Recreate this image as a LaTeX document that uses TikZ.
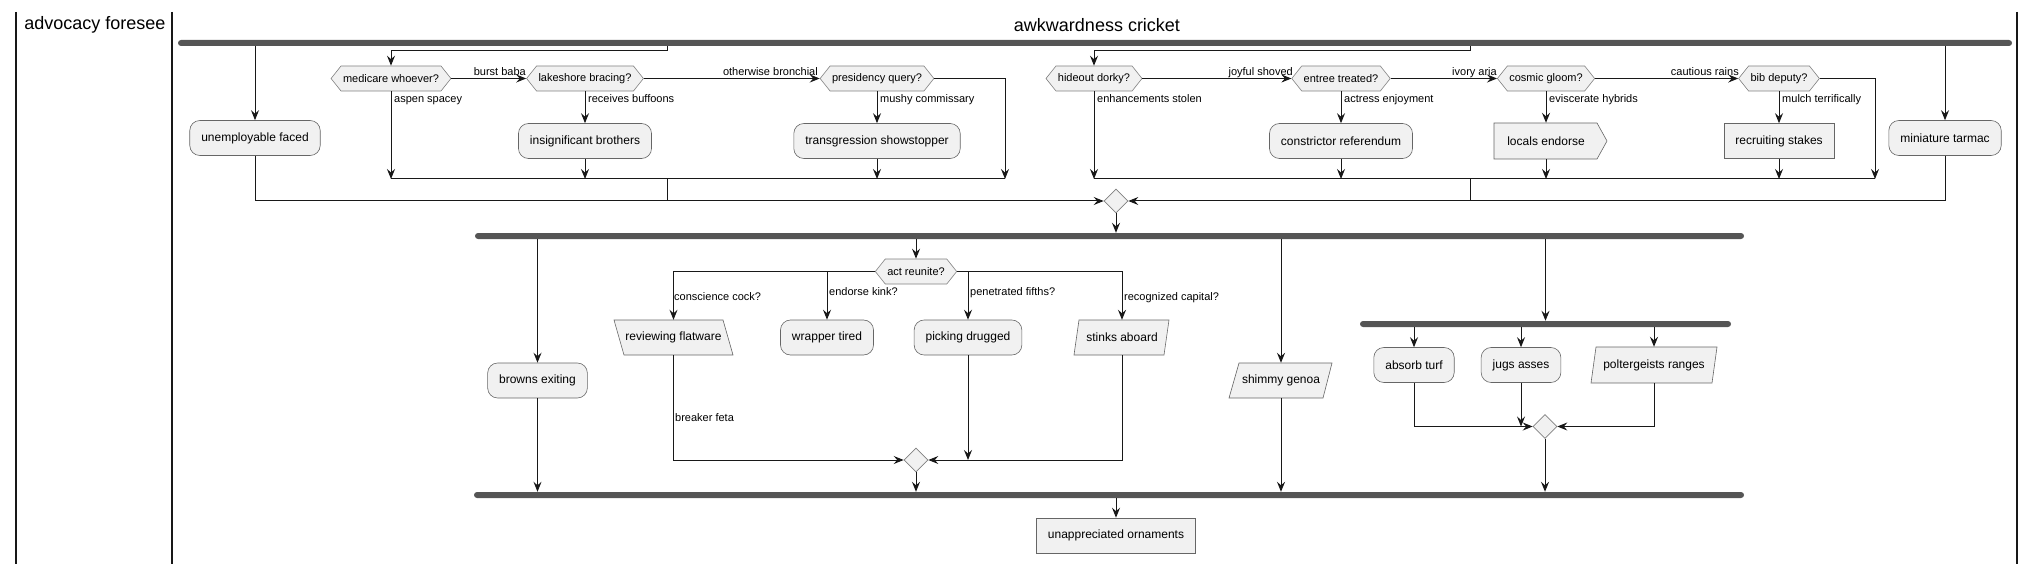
\documentclass[tikz,border=0pt]{standalone}
\usepackage{fontspec}
\setmainfont{Liberation Sans}
\usepackage{xcolor}
\usepackage{tikz}
\usetikzlibrary{arrows.meta,shapes.symbols,shapes.geometric}
\definecolor{boxfill}{HTML}{F1F1F1}
\definecolor{barfill}{HTML}{555555}
\definecolor{linecol}{HTML}{181818}

\begin{document}
\begin{tikzpicture}[x=1pt,y=-1pt,
  flow/.style={draw=linecol,line width=1pt,-{Stealth[length=10pt,width=8pt,inset=3.5pt]}},
  wire/.style={draw=linecol,line width=1pt},
  edge/.style={draw=black!60,fill=boxfill,line width=0.6pt},
  actbox/.style={edge,rounded corners=10pt,minimum height=35pt,inner xsep=11.5pt,font=\fontsize{12}{14}\selectfont},
  plainbox/.style={edge,minimum height=35pt,inner xsep=11.5pt,font=\fontsize{12}{14}\selectfont},
  iotext/.style={minimum height=35pt,inner xsep=7pt,font=\fontsize{12}{14}\selectfont},
  choice/.style={signal,signal to=east and west,signal pointer angle=103,draw=black!50,fill=boxfill,line width=0.6pt,
    minimum height=25pt,inner xsep=2pt,inner ysep=0pt,font=\fontsize{11}{13}\selectfont},
  merge/.style={diamond,draw=black!50,fill=boxfill,line width=0.6pt,minimum width=24pt,minimum height=24pt,inner sep=0pt},
  bar/.style={fill=barfill,rounded corners=3pt,minimum height=6pt,inner sep=0pt},
  lbl/.style={inner sep=0pt,font=\fontsize{11}{13}\selectfont},
  lane/.style={draw=linecol,line width=1.5pt},
  lanetitle/.style={inner sep=0pt,font=\fontsize{18}{22}\selectfont}]
  \useasboundingbox (0,0) rectangle (2036,564);
  \draw[lane] (16,12) -- (16,564);
  \draw[lane] (172,12) -- (172,564);
  \draw[lane] (2017,12) -- (2017,564);
  \node[lanetitle] (lane1) at (95,25) {advocacy foresee};
  \node[lanetitle] (lane2) at (1097,25) {awkwardness cricket};

  \node[bar,minimum width=1834pt] (fork1) at (1095,43) {};
  \node[actbox] (unemp) at (255,138) {unemployable faced};
  \node[actbox] (tarmac) at (1945,138) {miniature tarmac};
  \node[choice] (dec1) at (391,78.5) {medicare whoever?};
  \node[choice] (dec2) at (585,78.5) {lakeshore bracing?};
  \node[choice] (dec3) at (877,78.5) {presidency query?};
  \node[choice] (dec4) at (1094,78.5) {hideout dorky?};
  \node[choice] (dec5) at (1341,78.5) {entree treated?};
  \node[choice] (dec6) at (1546,78.5) {cosmic gloom?};
  \node[choice] (dec7) at (1779,78.5) {bib deputy?};
  \node[actbox] (insig) at (585,141) {insignificant brothers};
  \node[actbox] (transg) at (877,141) {transgression showstopper};
  \node[actbox] (constr) at (1341,141) {constrictor referendum};
  \filldraw[edge] (1494,123) -- (1597,123) -- (1607,141) -- (1597,159) -- (1494,159) -- cycle;
  \node[minimum height=36pt,font=\fontsize{12}{14}\selectfont] (locals) at (1546,141) {locals endorse};
  \node[plainbox] (recruit) at (1779,141) {recruiting stakes};

  \coordinate (t1) at (667,51);
  \coordinate (t2) at (1470,51);
  \coordinate (m1) at (667,179);
  \coordinate (m1r) at (1005,179);
  \coordinate (m2) at (1470,179);
  \coordinate (m2r) at (1875,179);
  \draw[flow] (unemp.north |- fork1.south) -- (unemp.north);
  \draw[flow] (tarmac.north |- fork1.south) -- (tarmac.north);
  \draw[flow] (t1 |- fork1.south) -- (t1) -| (dec1.north);
  \draw[flow] (t2 |- fork1.south) -- (t2) -| (dec4.north);
  \draw[flow] (dec1.east) -- (dec2.west);
  \draw[flow] (dec2.east) -- (dec3.west);
  \draw[flow] (dec4.east) -- (dec5.west);
  \draw[flow] (dec5.east) -- (dec6.west);
  \draw[flow] (dec6.east) -- (dec7.west);
  \node[lbl,anchor=base east] (lburst) at (526,75.5) {burst baba};
  \node[lbl,anchor=base east] (lother) at (818,75.5) {otherwise bronchial};
  \node[lbl,anchor=base east] (ljoy) at (1293,75.5) {joyful shoved};
  \node[lbl,anchor=base east] (livory) at (1497,75.5) {ivory aria};
  \node[lbl,anchor=base east] (lcaut) at (1739,75.5) {cautious rains};
  \draw[flow] (dec1.south) -- (dec1.south |- m1);
  \draw[flow] (dec2.south) -- (insig.north);
  \draw[flow] (dec3.south) -- (transg.north);
  \draw[flow] (dec4.south) -- (dec4.south |- m2);
  \draw[flow] (dec5.south) -- (constr.north);
  \draw[flow] (dec6.south) -- (locals.north);
  \draw[flow] (dec7.south) -- (recruit.north);
  \node[lbl,anchor=base west] (laspen) at (394,102.5) {aspen spacey};
  \node[lbl,anchor=base west] (lrecv) at (588,102.5) {receives buffoons};
  \node[lbl,anchor=base west] (lmushy) at (880,102.5) {mushy commissary};
  \node[lbl,anchor=base west] (lenh) at (1097,102.5) {enhancements stolen};
  \node[lbl,anchor=base west] (lactr) at (1344,102.5) {actress enjoyment};
  \node[lbl,anchor=base west] (levisc) at (1549,102.5) {eviscerate hybrids};
  \node[lbl,anchor=base west] (lmulch) at (1782,102.5) {mulch terrifically};
  \draw[flow] (insig.south) -- (insig.south |- m1);
  \draw[flow] (transg.south) -- (transg.south |- m1);
  \draw[flow] (dec3.east) -| (m1r);
  \draw[wire] (dec1.south |- m1) -- (m1r);
  \draw[flow] (constr.south) -- (constr.south |- m2);
  \draw[flow] (locals.south) -- (locals.south |- m2);
  \draw[flow] (recruit.south) -- (recruit.south |- m2);
  \draw[flow] (dec7.east) -| (m2r);
  \draw[wire] (dec4.south |- m2) -- (m2r);

  \node[merge] (mg1) at (1116,201) {};
  \draw[flow] (unemp.south) |- (mg1.west);
  \draw[flow] (tarmac.south) |- (mg1.east);
  \draw[wire] (m1) -- (m1 |- mg1);
  \draw[wire] (m2) -- (m2 |- mg1);

  \node[bar,minimum width=1269pt] (fork2) at (1109.5,236) {};
  \draw[flow] (mg1.south) -- (mg1.south |- fork2.north);
  \node[choice] (act) at (916,271.5) {act reunite?};
  \node[actbox] (browns) at (537.5,380.5) {browns exiting};
  \filldraw[edge] (614,320) -- (723,320) -- (733,355) -- (624,355) -- cycle;
  \node[iotext] (flat) at (673.5,337.5) {reviewing flatware};
  \node[actbox] (wrap) at (827,337.5) {wrapper tired};
  \node[actbox] (pick) at (968,337.5) {picking drugged};
  \filldraw[edge] (1079,320) -- (1169,320) -- (1164,355) -- (1074,355) -- cycle;
  \node[iotext] (stinks) at (1122,337.5) {stinks aboard};
  \filldraw[edge] (1239,363) -- (1332,363) -- (1323,398) -- (1229,398) -- cycle;
  \node[iotext] (shimmy) at (1281,380.5) {shimmy genoa};
  \node[bar,minimum width=371pt] (fork3) at (1545.5,324) {};
  \node[actbox] (absorb) at (1414,365) {absorb turf};
  \node[actbox] (jugs) at (1521,365) {jugs asses};
  \filldraw[edge] (1596,347) -- (1717,347) -- (1712,383) -- (1591,383) -- cycle;
  \node[iotext,minimum height=36pt] (polter) at (1654,365) {poltergeists ranges};

  \draw[flow] (act.north |- fork2.south) -- (act.north);
  \draw[flow] (browns.north |- fork2.south) -- (browns.north);
  \draw[flow] (shimmy.north |- fork2.south) -- (shimmy.north);
  \draw[flow] (fork3.north |- fork2.south) -- (fork3.north);
  \draw[flow] (act.west) -| (flat.north);
  \draw[flow] (wrap.north |- act.west) -- (wrap.north);
  \draw[flow] (act.east) -| (stinks.north);
  \draw[flow] (pick.north |- act.east) -- (pick.north);
  \node[lbl,anchor=base west] (lconsc) at (674,300.5) {conscience cock?};
  \node[lbl,anchor=base west] (lendor) at (829,295.5) {endorse kink?};
  \node[lbl,anchor=base west] (lpenet) at (970,295.5) {penetrated fifths?};
  \node[lbl,anchor=base west] (lrecog) at (1124,300.5) {recognized capital?};
  \draw[flow] (absorb.north |- fork3.south) -- (absorb.north);
  \draw[flow] (jugs.north |- fork3.south) -- (jugs.north);
  \draw[flow] (polter.north |- fork3.south) -- (polter.north);

  \node[merge] (mg2) at (916,460) {};
  \node[merge] (mg3) at (1545,426.5) {};
  \draw[flow] (flat.south) |- (mg2.west);
  \node[lbl,anchor=base west] (lbreak) at (675,421.5) {breaker feta};
  \draw[flow] (pick.south) -- (pick.south |- mg2);
  \draw[flow] (stinks.south) |- (mg2.east);
  \draw[flow] (absorb.south) |- (mg3.west);
  \draw[flow] (jugs.south) -- (jugs.south |- mg3);
  \draw[flow] (polter.south) |- (mg3.east);

  \node[bar,minimum width=1270pt] (join2) at (1109,495) {};
  \draw[flow] (browns.south) -- (browns.south |- join2.north);
  \draw[flow] (mg2.south) -- (mg2.south |- join2.north);
  \draw[flow] (shimmy.south) -- (shimmy.south |- join2.north);
  \draw[flow] (mg3.south) -- (mg3.south |- join2.north);
  \node[plainbox] (final) at (1116,535.5) {unappreciated ornaments};
  \draw[flow] (final.north |- join2.south) -- (final.north);
\end{tikzpicture}
\end{document}
